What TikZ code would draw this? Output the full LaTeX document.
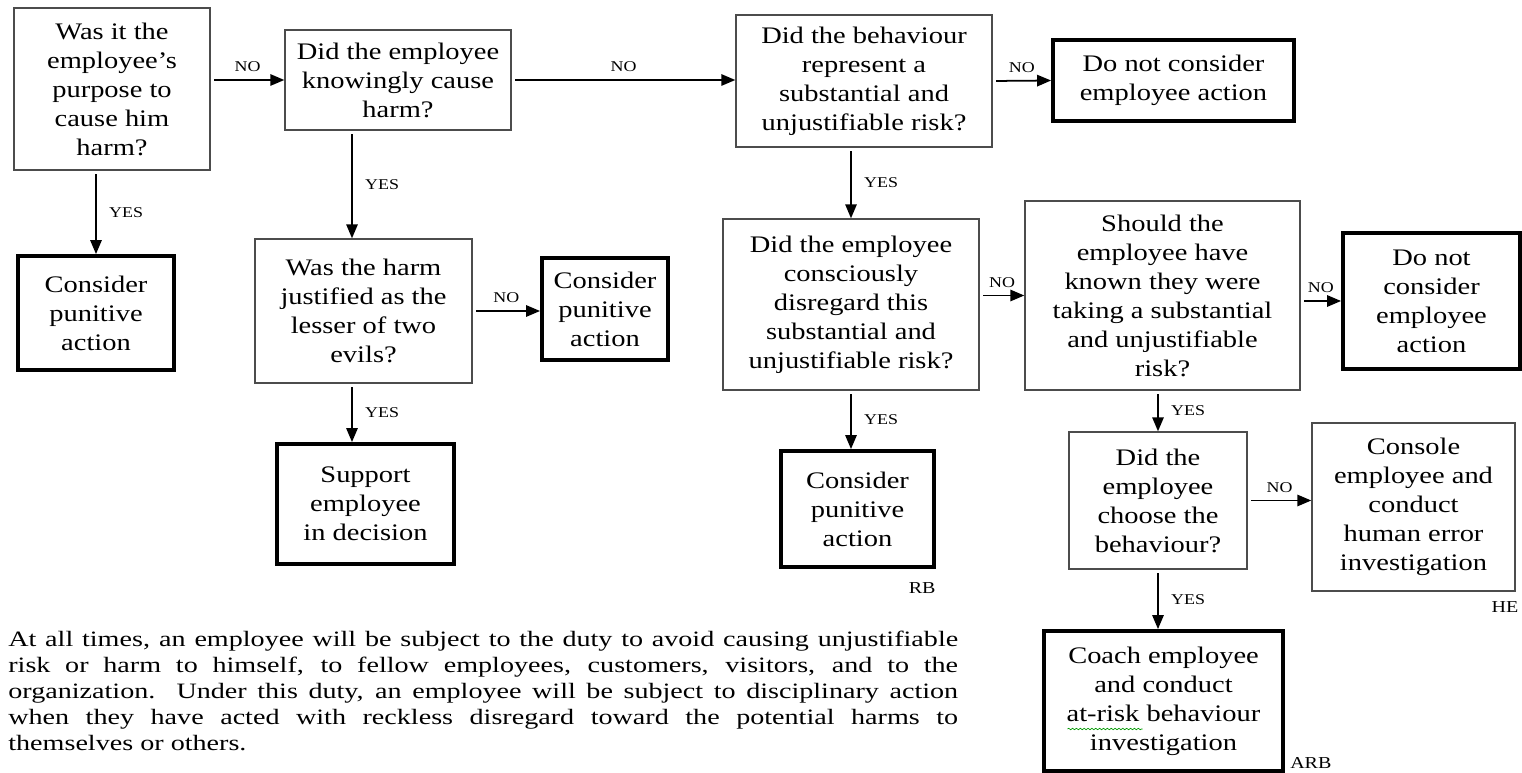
\documentclass[tikz,border=0pt]{standalone}
\usepackage{fontspec}
\setmainfont{Liberation Serif}
\newfontfamily\boxfamily[FakeStretch=1.2]{Liberation Serif}
\newfontfamily\parfamily[FakeStretch=1.28]{Liberation Serif}
\usetikzlibrary{arrows.meta,decorations.pathmorphing}

\begin{document}
\begin{tikzpicture}[x=0.02cm,y=-0.02cm,
    question/.style={draw=black!70,line width=0.8pt,align=center,inner sep=0pt,font=\boxfamily\boxfontsize},
    action/.style={question,draw=black,line width=2.2pt},
    arr/.style={line width=1pt,-{Triangle[length=8pt,width=6.5pt]},shorten <=2pt},
    lbl/.style={font=\boxfamily\labelfontsize,inner sep=1pt},
    tag/.style={font=\boxfamily\tagfontsize,inner sep=0pt}]
    \providecommand{\boxfontsize}{\fontsize{13.5}{16.5}\selectfont}
    \providecommand{\labelfontsize}{\fontsize{8.5}{10}\selectfont}
    \providecommand{\tagfontsize}{\fontsize{9.5}{11}\selectfont}
    \providecommand{\parfontsize}{\fontsize{12.5}{14.8}\selectfont}
    \useasboundingbox (0,0) rectangle (1522,773);
    % top row
    \node[question,minimum width=3.92cm,minimum height=3.24cm] (purpose) at (112,89) {Was it the\\employee’s\\purpose to\\cause him\\harm?};
    \node[question,minimum width=4.52cm,minimum height=2.0cm] (knowingly) at (398,80) {Did the employee\\knowingly cause\\harm?};
    \node[question,minimum width=5.12cm,minimum height=2.64cm] (risk) at (864,81) {Did the behaviour\\represent a\\substantial and\\unjustifiable risk?};
    \node[action,minimum width=4.82cm,minimum height=1.62cm] (noact1) at (1173.5,80.5) {Do not consider\\employee action};
    % middle row
    \node[action,minimum width=3.12cm,minimum height=2.28cm] (punish1) at (96,313) {Consider\\punitive\\action};
    \node[question,minimum width=4.34cm,minimum height=2.88cm] (lesser) at (363.5,311) {Was the harm\\justified as the\\lesser of two\\evils?};
    \node[action,minimum width=2.52cm,minimum height=2.04cm] (punish2) at (605,309) {Consider\\punitive\\action};
    \node[question,minimum width=5.12cm,minimum height=3.42cm] (disregard) at (851,304.5) {Did the employee\\consciously\\disregard this\\substantial and\\unjustifiable risk?};
    \node[question,minimum width=5.5cm,minimum height=3.78cm] (shouldknow) at (1162.5,295.5) {Should the\\employee have\\known they were\\taking a substantial\\and unjustifiable\\risk?};
    \node[action,minimum width=3.54cm,minimum height=2.72cm] (noact2) at (1431.5,301) {Do not\\consider\\employee\\action};
    % bottom row
    \node[action,minimum width=3.54cm,minimum height=2.4cm] (support) at (365.5,504) {Support\\employee\\in decision};
    \node[action,minimum width=3.06cm,minimum height=2.32cm] (punish3) at (857.5,509) {Consider\\punitive\\action};
    \node[question,minimum width=3.56cm,minimum height=2.74cm] (choose) at (1158,500.5) {Did the\\employee\\choose the\\behaviour?};
    \node[question,minimum width=4.06cm,minimum height=3.36cm] (console) at (1413.5,507) {Console\\employee and\\conduct\\human error\\investigation};
    \node[action,minimum width=4.78cm,minimum height=2.8cm] (coach) at (1163.5,701) {Coach employee\\and conduct\\at-risk behaviour\\investigation};
    \draw[green!60!black,decorate,decoration={snake,amplitude=0.4pt,segment length=2.2pt}] ([shift={(-96,28)}]coach.center) -- ([shift={(-21,28)}]coach.center);
    \node[tag,anchor=north east] (rb) at ([yshift=-0.26cm]punish3.south east) {RB};
    \node[tag,anchor=north east] (he) at ([xshift=0.06cm,yshift=-0.2cm]console.south east) {HE};
    \node[tag,anchor=base west] (arb) at ([xshift=0.1cm,yshift=0.08cm]coach.south east) {ARB};
    % connectors
    \draw[arr] (purpose.east |- knowingly.west) -- node[lbl,above=3pt]{NO} (knowingly.west);
    \draw[arr] (knowingly.east) -- node[lbl,above=3pt]{NO} (knowingly.east -| risk.west);
    \draw[arr] (risk.east) -- node[lbl,above=3pt]{NO} (noact1.west);
    \draw[arr] (purpose.south -| punish1.north) -- node[lbl,right=6pt]{YES} (punish1.north);
    \draw[arr] ([xshift=-0.23cm]lesser.north |- knowingly.south) -- node[lbl,right=6pt]{YES} ([xshift=-0.23cm]lesser.north);
    \draw[arr] (lesser.east) -- node[lbl,above=3pt]{NO} (lesser.east -| punish2.west);
    \draw[arr] ([xshift=-0.23cm]lesser.south) -- node[lbl,right=6pt]{YES} ([xshift=-0.23cm]lesser.south |- support.north);
    \draw[arr] (risk.south -| disregard.north) -- node[lbl,right=6pt]{YES} (disregard.north);
    \draw[arr] (disregard.east |- shouldknow.west) -- node[lbl,above=3pt]{NO} (shouldknow.west);
    \draw[arr] (disregard.south) -- node[lbl,right=6pt]{YES} (disregard.south |- punish3.north);
    \draw[arr] (shouldknow.east |- noact2.west) -- node[lbl,above=3pt]{NO} (noact2.west);
    \draw[arr] (shouldknow.south -| choose.north) -- node[lbl,right=6pt]{YES} (choose.north);
    \draw[arr] (choose.east) -- node[lbl,above=3pt]{NO} (choose.east -| console.west);
    \draw[arr] (choose.south) -- node[lbl,right=6pt]{YES} (choose.south |- coach.north);
    % duty paragraph
    \node[anchor=north west,text width=19cm,align=justify,inner sep=0pt,font=\parfamily\parfontsize] (duty) at (8,631)
    {At all times, an employee will be subject to the duty to avoid causing unjustifiable\linebreak
    risk or harm to himself, to fellow employees, customers, visitors, and to the\linebreak
    organization.\ \ Under this duty, an employee will be subject to disciplinary action\linebreak
    when they have acted with reckless disregard toward the potential harms to\linebreak
    themselves or others.};
\end{tikzpicture}
\end{document}
